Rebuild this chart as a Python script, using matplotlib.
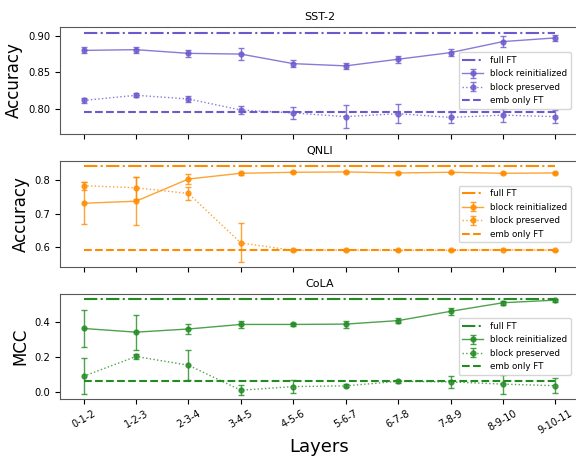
import numpy as np
import matplotlib
matplotlib.use("Agg")
import matplotlib.pyplot as plt

layers = ["0-1-2", "1-2-3", "2-3-4", "3-4-5", "4-5-6", "5-6-7", "6-7-8", "7-8-9", "8-9-10", "9-10-11"]

# SST-2
sst_full = 0.903
sst_emb = 0.796
sst_reinit = [0.880, 0.881, 0.876, 0.875, 0.862, 0.859, 0.868, 0.877, 0.892, 0.897]
sst_reinit_err = [0.004, 0.004, 0.005, 0.008, 0.005, 0.004, 0.005, 0.005, 0.008, 0.004]
sst_pres = [0.812, 0.819, 0.814, 0.799, 0.795, 0.790, 0.794, 0.789, 0.792, 0.790]
sst_pres_err = [0.003, 0.003, 0.004, 0.005, 0.008, 0.016, 0.013, 0.007, 0.009, 0.009]

# QNLI
qnli_full = 0.841
qnli_emb = 0.593
qnli_reinit = [0.731, 0.737, 0.803, 0.820, 0.823, 0.824, 0.821, 0.823, 0.820, 0.821]
qnli_reinit_err = [0.062, 0.072, 0.015, 0.005, 0.003, 0.003, 0.003, 0.002, 0.003, 0.002]
qnli_pres = [0.783, 0.777, 0.760, 0.613, 0.591, 0.592, 0.591, 0.591, 0.593, 0.591]
qnli_pres_err = [0.012, 0.032, 0.020, 0.058, 0.003, 0.004, 0.002, 0.002, 0.002, 0.002]

# CoLA
cola_full = 0.533
cola_emb = 0.067
cola_reinit = [0.365, 0.344, 0.362, 0.388, 0.388, 0.390, 0.410, 0.463, 0.512, 0.527]
cola_reinit_err = [0.108, 0.100, 0.028, 0.020, 0.008, 0.020, 0.016, 0.020, 0.010, 0.008]
cola_pres = [0.092, 0.205, 0.155, 0.012, 0.033, 0.037, 0.063, 0.060, 0.047, 0.038]
cola_pres_err = [0.103, 0.012, 0.085, 0.028, 0.038, 0.008, 0.010, 0.035, 0.055, 0.043]

fig = plt.figure(figsize=(5.76, 4.57), dpi=100)
x = np.arange(len(layers))

panels = [
    ("SST-2", "Accuracy", "slateblue", sst_full, sst_emb, sst_reinit, sst_reinit_err, sst_pres, sst_pres_err, [0.80, 0.85, 0.90], (0.7664, 0.9118)),
    ("QNLI", "Accuracy", "darkorange", qnli_full, qnli_emb, qnli_reinit, qnli_reinit_err, qnli_pres, qnli_pres_err, [0.6, 0.7, 0.8], (0.5415, 0.8565)),
    ("CoLA", "MCC", "forestgreen", cola_full, cola_emb, cola_reinit, cola_reinit_err, cola_pres, cola_pres_err, [0.0, 0.2, 0.4], (-0.038, 0.562)),
]
# axes boxes in pixels (top, bottom)
boxes = [(27, 134), (161, 267), (294, 399)]
W, H = 576, 457
left_px, width_px = 60, 519

for i, (title, ylab, c, full, emb, re, re_err, pr, pr_err, yt, yl) in enumerate(panels):
    top, bot = boxes[i]
    ax = fig.add_axes([left_px / W, 1 - bot / H, width_px / W, (bot - top) / H])
    h1, = ax.plot(x, [full] * len(x), "-.", color=c, lw=1.5)
    h2 = ax.errorbar(x, re, yerr=re_err, fmt="-o", color=c, lw=1, ms=3.5, capsize=2, alpha=0.8)
    h3 = ax.errorbar(x, pr, yerr=pr_err, fmt=":o", color=c, lw=1, ms=3.5, capsize=2, alpha=0.8)
    h4, = ax.plot(x, [emb] * len(x), "--", color=c, lw=1.5)
    ax.set_title(title, fontsize=8, pad=5)
    ax.set_ylabel(ylab, fontsize=12, labelpad=3.5)
    ax.set_yticks(yt)
    ax.set_ylim(*yl)
    ax.set_xticks(x)
    ax.tick_params(labelsize=7.2)
    for s in ax.spines.values():
        s.set_color("0.35")
    if i < 2:
        ax.set_xticklabels([])
    else:
        ax.set_xticklabels(layers, rotation=30, fontsize=7)
        ax.set_xlabel("Layers", fontsize=13, labelpad=1)
    ax.legend([h1, h2, h3, h4], ["full FT", "block reinitialized", "block preserved", "emb only FT"],
              loc="center right", bbox_to_anchor=((575 - left_px) / width_px, 0.5),
              fontsize=6.3, handlelength=2.4)

plt.savefig("out.png", dpi=100)
